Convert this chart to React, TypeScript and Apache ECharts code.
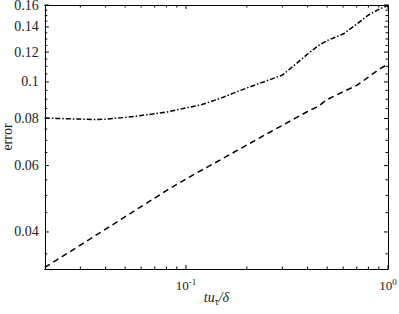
import React, { useEffect, useRef } from "react";
import * as echarts from "echarts";

// ---- data ----
const tValues = [0.02, 0.025, 0.03, 0.035, 0.04, 0.05, 0.06, 0.07, 0.08, 0.1, 0.12, 0.15, 0.18, 0.2, 0.25, 0.3, 0.35, 0.4, 0.45, 0.5, 0.6, 0.7, 0.8, 0.9, 1.0];
const errDashDot = [0.0802, 0.0799, 0.0797, 0.0795, 0.0797, 0.0805, 0.0815, 0.0823, 0.0832, 0.0853, 0.0871, 0.0907, 0.0943, 0.0964, 0.1006, 0.1043, 0.1116, 0.1186, 0.1246, 0.1288, 0.134, 0.1424, 0.1505, 0.1557, 0.1595];
const errDashed = [0.0322, 0.0347, 0.0369, 0.0389, 0.0407, 0.0439, 0.0467, 0.0492, 0.0515, 0.0553, 0.0584, 0.0624, 0.0659, 0.068, 0.0727, 0.0767, 0.0803, 0.0835, 0.0861, 0.0898, 0.0942, 0.0979, 0.103, 0.1079, 0.1116];

const xMajorTicks = [0.1, 1];
const xTickBase = ["10", "10"];
const xTickExp = ["-1", "0"];
const xMinorTicks = [0.03, 0.04, 0.05, 0.06, 0.07, 0.08, 0.09, 0.2, 0.3, 0.4, 0.5, 0.6, 0.7, 0.8, 0.9];

const yMajorTicks = [0.04, 0.06, 0.08, 0.1, 0.12, 0.14, 0.16];
const yTickLabels = ["0.04", "0.06", "0.08", "0.1", "0.12", "0.14", "0.16"];
const yMinorTicks = [0.035, 0.045, 0.05, 0.055, 0.065, 0.07, 0.075, 0.085, 0.09, 0.095, 0.105, 0.11, 0.115, 0.125, 0.13, 0.135, 0.145, 0.15, 0.155];

const X_MIN = 0.02;
const X_MAX = 1;
const Y_MIN = 0.0319;
const Y_MAX = 0.16;

const FONT = "'Liberation Serif', 'Times New Roman', serif";
const lg = (v: number) => Math.log10(v);

function nearestIndex(arr: number[], v: number) {
  let best = 0;
  let bd = Infinity;
  arr.forEach((a, i) => {
    const d = Math.abs(lg(a) - v);
    if (d < bd) {
      bd = d;
      best = i;
    }
  });
  return best;
}

const MAJOR_LEN = 4;
const MINOR_LEN = 2.5;
const tickStyle = { stroke: "#000", lineWidth: 1 };

function makeXAxis(position: "top" | "bottom", labels: boolean) {
  const ax: any = {
    type: "value",
    position,
    min: lg(X_MIN),
    max: lg(X_MAX),
    axisLine: { show: true, onZero: false, lineStyle: { color: "#000", width: 1 } },
    splitLine: { show: false },
    axisTick: { show: false },
    axisLabel: labels
      ? {
          show: true,
          customValues: xMajorTicks.map(lg),
          margin: 8,
          fontFamily: FONT,
          color: "#222",
          formatter: (v: number) => {
            const i = nearestIndex(xMajorTicks, v);
            return `{b|${xTickBase[i]}}{s|${xTickExp[i]}}`;
          },
          rich: {
            b: { fontFamily: FONT, fontSize: 13, color: "#222" },
            s: { fontFamily: FONT, fontSize: 9, color: "#222", padding: [0, 0, 8, 0] },
          },
        }
      : { show: false },
  };
  if (labels) {
    ax.name = "{i|tu}{sub|τ}{i|/δ}";
    ax.nameLocation = "middle";
    ax.nameGap = 19;
    ax.nameMoveOverlap = false;
    ax.nameTextStyle = {
      rich: {
        i: { fontFamily: FONT, fontStyle: "italic", fontSize: 14, color: "#222" },
        sub: { fontFamily: FONT, fontSize: 10, color: "#222", padding: [8, 0, 0, 0] },
      },
    };
  }
  return ax;
}

function makeYAxis(position: "left" | "right", labels: boolean) {
  const ax: any = {
    type: "value",
    position,
    min: lg(Y_MIN),
    max: lg(Y_MAX),
    axisLine: { show: true, onZero: false, lineStyle: { color: "#000", width: 1 } },
    splitLine: { show: false },
    axisTick: { show: false },
    axisLabel: labels
      ? {
          show: true,
          customValues: yMajorTicks.map(lg),
          margin: 6,
          fontFamily: FONT,
          fontSize: 14,
          color: "#222",
          formatter: (v: number) => yTickLabels[nearestIndex(yMajorTicks, v)],
        }
      : { show: false },
  };
  if (labels) {
    ax.name = "error";
    ax.nameLocation = "middle";
    ax.nameGap = 30;
    ax.nameRotate = 90;
    ax.nameMoveOverlap = false;
    ax.nameTextStyle = { fontFamily: FONT, fontSize: 14, color: "#222" };
  }
  return ax;
}

export default function App() {
  const ref = useRef<HTMLDivElement>(null);
  useEffect(() => {
    document.body.style.margin = "0";
    if (!ref.current) return;
    const chart = echarts.init(ref.current, undefined, { renderer: "svg" });

    const xTickData = [
      ...xMajorTicks.map((v) => [lg(v), lg(Y_MIN), 1]),
      ...xMinorTicks.map((v) => [lg(v), lg(Y_MIN), 0]),
    ];
    const yTickData = [
      ...yMajorTicks.map((v) => [lg(X_MIN), lg(v), 1]),
      ...yMinorTicks.map((v) => [lg(X_MIN), lg(v), 0]),
    ];

    chart.setOption({
      animation: false,
      backgroundColor: "#fff",
      grid: { left: 44.8, right: 11, top: 5, bottom: 45, containLabel: false, outerBoundsMode: "none" },
      xAxis: [makeXAxis("bottom", true), makeXAxis("top", false)],
      yAxis: [makeYAxis("left", true), makeYAxis("right", false)],
      series: [
        {
          type: "line",
          xAxisIndex: 0,
          yAxisIndex: 0,
          symbol: "none",
          data: tValues.map((t, i) => [lg(t), lg(errDashDot[i])]),
          lineStyle: { color: "#000", width: 1.5, type: [5, 2, 1.5, 2] },
        },
        {
          type: "line",
          xAxisIndex: 0,
          yAxisIndex: 0,
          symbol: "none",
          data: tValues.map((t, i) => [lg(t), lg(errDashed[i])]),
          lineStyle: { color: "#000", width: 1.5, type: [6, 4] },
        },
        {
          type: "custom",
          xAxisIndex: 0,
          yAxisIndex: 0,
          silent: true,
          clip: false,
          z: 10,
          encode: { x: 0, y: 1 },
          data: xTickData,
          renderItem: (_p: any, api: any) => {
            const x = api.value(0);
            const len = api.value(2) ? MAJOR_LEN : MINOR_LEN;
            const b = api.coord([x, lg(Y_MIN)]);
            const t = api.coord([x, lg(Y_MAX)]);
            return {
              type: "group",
              children: [
                { type: "line", shape: { x1: b[0], y1: b[1], x2: b[0], y2: b[1] - len }, style: tickStyle },
                { type: "line", shape: { x1: t[0], y1: t[1], x2: t[0], y2: t[1] + len }, style: tickStyle },
              ],
            };
          },
        },
        {
          type: "custom",
          xAxisIndex: 0,
          yAxisIndex: 0,
          silent: true,
          clip: false,
          z: 10,
          encode: { x: 0, y: 1 },
          data: yTickData,
          renderItem: (_p: any, api: any) => {
            const y = api.value(1);
            const len = api.value(2) ? MAJOR_LEN : MINOR_LEN;
            const l = api.coord([lg(X_MIN), y]);
            const r = api.coord([lg(X_MAX), y]);
            return {
              type: "group",
              children: [
                { type: "line", shape: { x1: l[0], y1: l[1], x2: l[0] + len, y2: l[1] }, style: tickStyle },
                { type: "line", shape: { x1: r[0], y1: r[1], x2: r[0] - len, y2: r[1] }, style: tickStyle },
              ],
            };
          },
        },
      ],
    });
    return () => chart.dispose();
  }, []);
  return <div ref={ref} style={{ width: 399, height: 314 }} />;
}
